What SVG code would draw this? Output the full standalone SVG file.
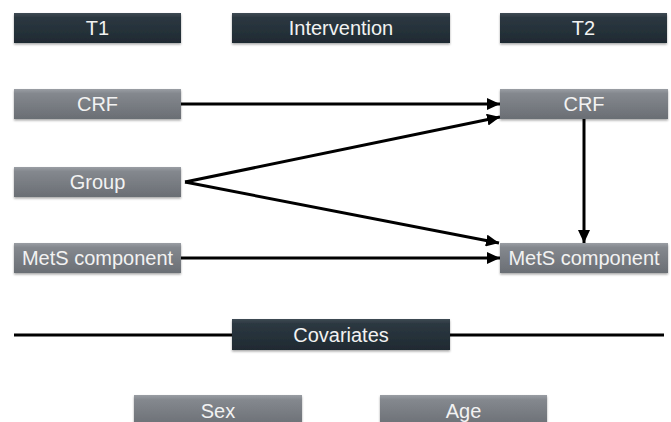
<svg xmlns="http://www.w3.org/2000/svg" width="671" height="422" viewBox="0 0 671 422">
<style>
.lbl{font-family:"Liberation Sans",Arial,sans-serif;font-size:20px;fill:#f2f2f2;text-anchor:middle}
.dark{fill:url(#gd);filter:url(#sh)}
.gray{fill:url(#gg);filter:url(#sh)}
.hl{fill:none;stroke:#ffffff;stroke-opacity:0.25;stroke-width:1}
.conn{stroke:#000;stroke-width:3;fill:none}
</style>
<defs>
<linearGradient id="gd" x1="0" y1="0" x2="0" y2="1">
<stop offset="0" stop-color="#3e4a54"/>
<stop offset="0.15" stop-color="#2c3841"/>
<stop offset="1" stop-color="#1f2a32"/>
</linearGradient>
<linearGradient id="gg" x1="0" y1="0" x2="0" y2="1">
<stop offset="0" stop-color="#9a9ea4"/>
<stop offset="0.15" stop-color="#84888e"/>
<stop offset="1" stop-color="#6a6e74"/>
</linearGradient>
<filter id="sh" x="-5%" y="-20%" width="110%" height="150%">
<feDropShadow dx="0" dy="1.5" stdDeviation="1.2" flood-color="#000" flood-opacity="0.35"/>
</filter>
<marker id="ah" markerUnits="userSpaceOnUse" markerWidth="14" markerHeight="12" refX="13" refY="6" orient="auto">
<path d="M0,0 L13,6 L0,12 Z" fill="#000"/>
</marker>
</defs>
<g id="connectors">
<line class="conn" x1="14" y1="335" x2="664" y2="335"/>
<line class="conn" x1="181" y1="104" x2="500" y2="104" marker-end="url(#ah)"/>
<line class="conn" x1="185" y1="182" x2="500" y2="117" marker-end="url(#ah)"/>
<line class="conn" x1="185" y1="182" x2="499" y2="243" marker-end="url(#ah)"/>
<line class="conn" x1="181" y1="258" x2="500" y2="258" marker-end="url(#ah)"/>
<line class="conn" x1="584" y1="119" x2="584" y2="243" marker-end="url(#ah)"/>
</g>
<g id="t1"><rect class="dark" x="14" y="13" width="167" height="30"/><text class="lbl" x="97.5" y="35">T1</text></g>
<g id="intervention"><rect class="dark" x="232" y="13" width="218" height="30"/><text class="lbl" x="341" y="35">Intervention</text></g>
<g id="t2"><rect class="dark" x="500" y="13" width="167" height="30"/><text class="lbl" x="583.5" y="35">T2</text></g>
<g id="crf1"><rect class="gray" x="14" y="89" width="167" height="30"/><text class="lbl" x="97.5" y="111">CRF</text></g>
<g id="group"><rect class="gray" x="14" y="167" width="167" height="30"/><text class="lbl" x="97.5" y="189">Group</text></g>
<g id="mets1"><rect class="gray" x="14" y="243" width="167" height="30"/><text class="lbl" x="97.5" y="265">MetS component</text></g>
<g id="crf2"><rect class="gray" x="500" y="89" width="168" height="30"/><text class="lbl" x="584" y="111">CRF</text></g>
<g id="mets2"><rect class="gray" x="500" y="243" width="168" height="30"/><text class="lbl" x="584" y="265">MetS component</text></g>
<g id="covariates"><rect class="dark" x="232" y="319" width="218" height="31"/><text class="lbl" x="341" y="342">Covariates</text></g>
<g id="sex"><rect class="gray" x="134" y="395" width="168" height="32"/><text class="lbl" x="218" y="418">Sex</text></g>
<g id="age"><rect class="gray" x="380" y="395" width="167" height="32"/><text class="lbl" x="463.5" y="418">Age</text></g>
</svg>
